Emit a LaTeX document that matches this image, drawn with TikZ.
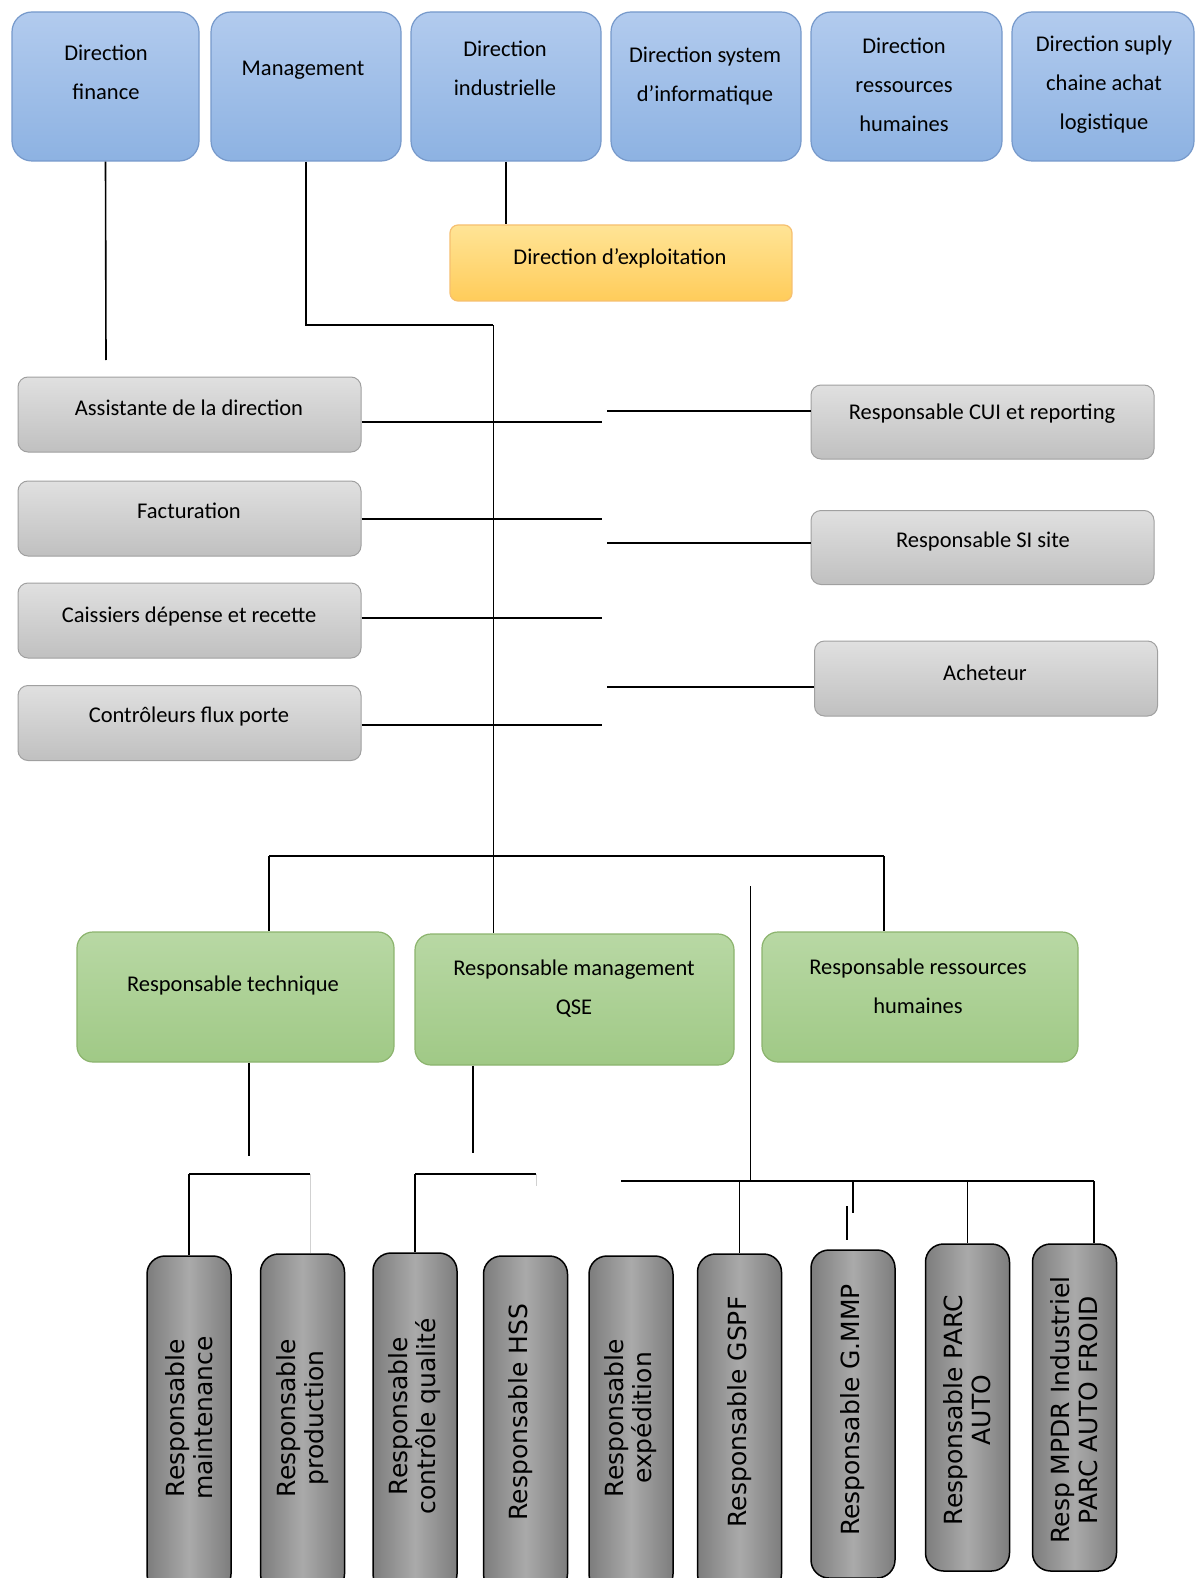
\documentclass[tikz,border=0pt]{standalone}
\usepackage{fontspec}
\setmainfont{Carlito}
\newfontfamily\vertfont{DejaVu Sans}
\definecolor{dirtop}{RGB}{178,203,238}
\definecolor{dirbot}{RGB}{141,178,226}
\definecolor{dirline}{RGB}{118,153,203}
\definecolor{exptop}{RGB}{255,228,150}
\definecolor{expbot}{RGB}{255,204,90}
\definecolor{expline}{RGB}{246,192,112}
\definecolor{stafftop}{RGB}{224,224,224}
\definecolor{staffbot}{RGB}{192,192,192}
\definecolor{staffline}{RGB}{160,160,160}
\definecolor{resptop}{RGB}{184,216,164}
\definecolor{respbot}{RGB}{160,201,134}
\definecolor{respline}{RGB}{140,180,110}
\definecolor{unitmid}{RGB}{170,170,170}
\definecolor{unitside}{RGB}{125,125,125}
\tikzset{%
boxsize/.style 2 args={minimum width=#1pt, minimum height=#2pt},
dirbox/.style={draw=dirline, line width=1.2pt, rounded corners=20pt, top color=dirtop, bottom color=dirbot},
expbox/.style={draw=expline, line width=1.2pt, rounded corners=8pt, top color=exptop, bottom color=expbot},
staffbox/.style={draw=staffline, line width=1pt, rounded corners=10pt, top color=stafftop, bottom color=staffbot},
respbox/.style={draw=respline, line width=1.2pt, rounded corners=16pt, top color=resptop, bottom color=respbot},
unitbox/.style={draw=black, line width=1.5pt, rounded corners=18pt, left color=unitside, right color=unitside, middle color=unitmid, minimum width=84pt, minimum height=#1pt},
boxtext/.style={align=center, inner sep=0pt, font=\fontsize{22.5}{39}\selectfont},
unittxt/.style={rotate=90, align=center, inner sep=0pt, font=\vertfont\fontsize{25}{28}\selectfont},
link/.style={line width=1.6pt},
bar/.style={line width=2.6pt},
hairline/.style={line width=1pt},
faint/.style={line width=1pt, black!18},
}

\begin{document}
\begin{tikzpicture}[x=1pt,y=-1pt]
        \fill[white] (0,0) rectangle (1197,1578);
        \useasboundingbox (0,0) rectangle (1197,1578);
        % directions
        \node[dirbox,boxsize={187}{149}] (dfin) at (105.5,86.5) {};
        \node[dirbox,boxsize={190}{149}] (dmgt) at (306,86.5) {};
        \node[dirbox,boxsize={190}{149}] (dind) at (506,86.5) {};
        \node[dirbox,boxsize={190}{149}] (dsys) at (706,86.5) {};
        \node[dirbox,boxsize={191}{149}] (drh) at (906.5,86.5) {};
        \node[dirbox,boxsize={182}{149}] (dsup) at (1103,86.5) {};
        \node[boxtext] (dfinT) at (106,72) {Direction\\finance};
        \node[boxtext] (dmgtT) at (303,70.5) {Management};
        \node[boxtext] (dindT) at (505,68.5) {Direction\\industrielle};
        \node[boxtext] (dsysT) at (705,76) {Direction system\\d'informatique};
        \node[boxtext] (drhT) at (904,84.5) {Direction\\ressources\\humaines};
        \node[boxtext] (dsupT) at (1104,84.5) {Direction suply\\chaine achat\\logistique};
        \node[expbox,boxsize={342}{76}] (dexp) at (621,263) {};
        \node[boxtext] (dexpT) at (620,258) {Direction d'exploitation};
        % services
        \node[staffbox,boxsize={343}{75}] (assist) at (189.5,414.5) {};
        \node[staffbox,boxsize={343}{75}] (fact) at (189.5,518.5) {};
        \node[staffbox,boxsize={343}{75}] (caiss) at (189.5,620.5) {};
        \node[staffbox,boxsize={343}{75}] (ctrl) at (189.5,723) {};
        \node[boxtext] (assistT) at (189,408) {Assistante de la direction};
        \node[boxtext] (factT) at (189,511) {Facturation};
        \node[boxtext] (caissT) at (189,616) {Caissiers dépense et recette};
        \node[boxtext] (ctrlT) at (189,716) {Contrôleurs flux porte};
        \node[staffbox,boxsize={343}{74}] (cui) at (982.5,422) {};
        \node[staffbox,boxsize={343}{74}] (sisite) at (982.5,547.5) {};
        \node[staffbox,boxsize={343}{75}] (achat) at (986,678.5) {};
        \node[boxtext] (cuiT) at (982,414) {Responsable CUI et reporting};
        \node[boxtext] (sisiteT) at (983,541) {Responsable SI site};
        \node[boxtext] (achatT) at (985,673) {Acheteur};
        % responsables
        \node[respbox,boxsize={317}{130}] (rtech) at (235.5,997) {};
        \node[respbox,boxsize={319}{131}] (rqse) at (574.5,999.5) {};
        \node[respbox,boxsize={316}{130}] (rrh) at (920,997) {};
        \node[boxtext] (rtechT) at (233,985) {Responsable technique};
        \node[boxtext] (rqseT) at (574,989) {Responsable management\\QSE};
        \node[boxtext] (rrhT) at (918,986.5) {Responsable ressources\\humaines};
        % unites
        \node[unitbox=336] (rmaint) at (189,1424) {};
        \node[unitbox=338] (rprod) at (302.5,1423) {};
        \node[unitbox=339] (rqual) at (415,1422.5) {};
        \node[unitbox=336] (rhss) at (525.5,1424) {};
        \node[unitbox=336] (rexp) at (631,1424) {};
        \node[unitbox=338] (rgspf) at (739.5,1423) {};
        \node[unitbox=328] (rgmmp) at (853,1414) {};
        \node[unitbox=327] (rparc) at (967.5,1407.5) {};
        \node[unitbox=327] (rmpdr) at (1074.5,1407.5) {};
        \node[unittxt] (rmaintT) at (189,1418) {Responsable\\maintenance};
        \node[unittxt] (rprodT) at (302.5,1418) {Responsable\\production};
        \node[unittxt] (rqualT) at (415,1416) {Responsable\\contrôle qualité};
        \node[unittxt] (rhssT) at (521,1412) {Responsable HSS};
        \node[unittxt] (rexpT) at (631,1418) {Responsable\\expédition};
        \node[unittxt] (rgspfT) at (739.5,1412) {Responsable GSPF};
        \node[unittxt] (rgmmpT) at (853,1410) {Responsable G.MMP};
        \node[unittxt] (rparcT) at (967.5,1410) {Responsable PARC\\AUTO};
        \node[unittxt] (rmpdrT) at (1074.5,1410) {Resp MPDR Industriel\\PARC AUTO FROID};
        % liaisons
        \coordinate (finEnd) at (106,360);
        \coordinate (hub) at (493,325);
        \draw[link] (dfin.south) -- (finEnd);
        \draw[link] (dmgt.south) |- (hub);
        \draw[link] (dind.south) -- (dind.south |- dexp.north);
        \draw[hairline] (hub) -- (hub |- rqse.north);
        \foreach \n/\y in {assist/422,fact/519,caiss/618,ctrl/725}{
            \coordinate (\n-end) at (602,\y);
            \draw[bar] (\n.east |- \n-end) -- (\n-end);
        }
        \foreach \n/\y in {cui/411,sisite/543,achat/687}{
            \coordinate (\n-end) at (607,\y);
            \draw[bar] (\n-end) -- (\n-end -| \n.west);
        }
        \coordinate (jl) at (269,856);
        \coordinate (jr) at (884,856);
        \draw[bar] (jl) -- (jr);
        \draw[link] (jl) -- (jl |- rtech.north);
        \draw[link] (jr) -- (jr |- rrh.north);
        \coordinate (techEnd) at (249,1156);
        \coordinate (qseEnd) at (473,1153);
        \draw[link] (rtech.south -| techEnd) -- (techEnd);
        \draw[link] (rqse.south -| qseEnd) -- (qseEnd);
        \coordinate (mr) at (310,1174);
        \draw[bar] (mr) -- (mr -| rmaint.north);
        \draw[link] (mr -| rmaint.north) -- (rmaint.north);
        \draw[faint] (mr) -- (mr |- rprod.north);
        \coordinate (qr) at (536,1174);
        \coordinate (qrEnd) at (536,1186);
        \draw[bar] (qr) -- (qr -| rqual.north);
        \draw[link] (qr -| rqual.north) -- (rqual.north);
        \draw[faint] (qr) -- (qrEnd);
        \coordinate (hrTop) at (750,886);
        \coordinate (ul) at (621,1181);
        \coordinate (ur) at (1094,1181);
        \coordinate (gmA) at (853,1213);
        \coordinate (gmB) at (847,1206);
        \coordinate (gmC) at (847,1240);
        \draw[hairline] (hrTop) -- (hrTop |- ul);
        \draw[bar] (ul) -- (ur);
        \draw[link] (rgspf.north |- ul) -- (rgspf.north);
        \draw[link] (rgmmp.north |- ul) -- (gmA);
        \draw[link] (gmB) -- (gmC);
        \draw[link] (rparc.north |- ul) -- (rparc.north);
        \draw[link] (ur) -- (ur |- rmpdr.north);
\end{tikzpicture}
\end{document}
